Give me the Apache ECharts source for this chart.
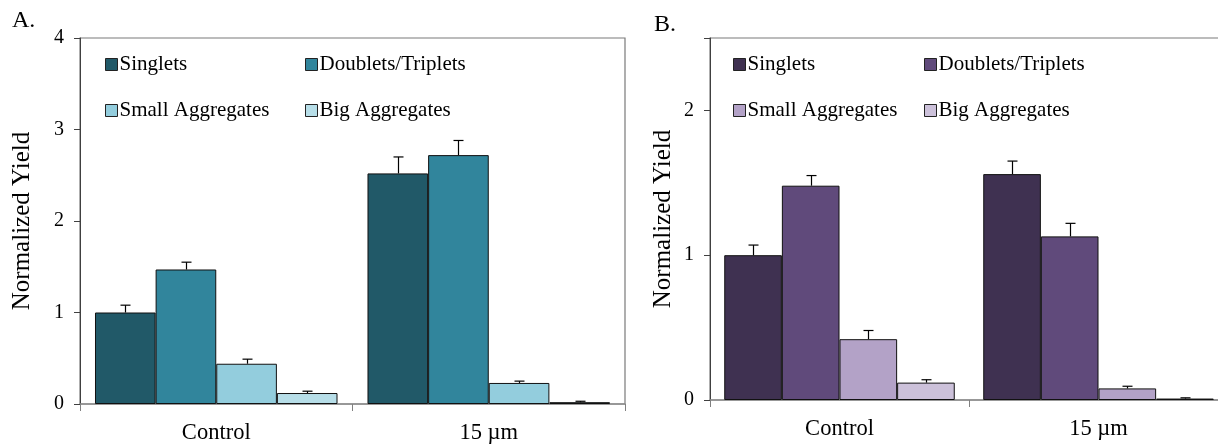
<!DOCTYPE html>
<html>
<head>
<meta charset="utf-8">
<script src="https://cdn.jsdelivr.net/npm/echarts@6/dist/echarts.min.js"></script>
<style>html,body{margin:0;padding:0;background:#fff;}#c{width:1218px;height:444px;}</style>
</head>
<body>
<div id="c"></div>
<script>
// ---- data ----
var categories = ['Control', '15 µm'];
var seriesNames = ['Singlets', 'Doublets/Triplets', 'Small Aggregates', 'Big Aggregates'];

// Panel A values and upper error
var aSinglets = [1.00, 2.52];
var aDoublets = [1.47, 2.72];
var aSmall = [0.44, 0.23];
var aBig = [0.12, 0.02];
var aSingletsErr = [0.08, 0.18];
var aDoubletsErr = [0.08, 0.16];
var aSmallErr = [0.05, 0.02];
var aBigErr = [0.02, 0.01];

// Panel B values and upper error
var bSinglets = [1.00, 1.56];
var bDoublets = [1.48, 1.13];
var bSmall = [0.42, 0.08];
var bBig = [0.12, 0.01];
var bSingletsErr = [0.07, 0.09];
var bDoubletsErr = [0.07, 0.09];
var bSmallErr = [0.06, 0.015];
var bBigErr = [0.02, 0.005];

var aTicks = [0, 1, 2, 3, 4];
var bTicks = [0, 1, 2];

var colorsA = ['#215968', '#31859C', '#93CDDD', '#B7DEE8'];
var colorsB = ['#3F3151', '#604A7B', '#B3A2C7', '#CCC1DA'];

var FONT = '"Liberation Serif", "Times New Roman", serif';
var CAT_GAP = 0.11;

var aVals = [aSinglets, aDoublets, aSmall, aBig];
var aErrs = [aSingletsErr, aDoubletsErr, aSmallErr, aBigErr];
var bVals = [bSinglets, bDoublets, bSmall, bBig];
var bErrs = [bSingletsErr, bDoubletsErr, bSmallErr, bBigErr];

function errData(vals, errs) {
  var d = [];
  for (var s = 0; s < vals.length; s++) {
    for (var c = 0; c < categories.length; c++) {
      d.push([c, s, vals[s][c], errs[s][c]]);
    }
  }
  return d;
}

function renderErr(params, api) {
  var c = api.value(0), s = api.value(1), v = api.value(2), e = api.value(3);
  var center = api.coord([c, 0]);
  var band = api.size([1, 0])[0];
  var used = band * (1 - CAT_GAP);
  var bw = used / 4;
  var x = Math.round(center[0] - used / 2 + (s + 0.5) * bw) + 0.5;
  var y0 = api.coord([c, v])[1];
  var y1 = api.coord([c, v + e])[1];
  var cap = 5;
  var st = { stroke: '#000', lineWidth: 1.2, fill: null };
  return {
    type: 'group',
    children: [
      { type: 'line', shape: { x1: x, y1: y0, x2: x, y2: y1 }, style: st },
      { type: 'line', shape: { x1: x - cap, y1: y1, x2: x + cap, y2: y1 }, style: st }
    ]
  };
}

function barSeries(vals, colors, idx) {
  return vals.map(function (v, s) {
    return {
      type: 'bar',
      name: seriesNames[s],
      xAxisIndex: idx,
      yAxisIndex: idx,
      data: v,
      barGap: '0%',
      barCategoryGap: (CAT_GAP * 100) + '%',
      itemStyle: { color: colors[s], borderColor: '#111', borderWidth: 1 },
      emphasis: { disabled: true },
      animation: false
    };
  });
}

function legendsFor(colors, x1, x2, y1, y2) {
  var pos = [[x1, y1], [x2, y1], [x1, y2], [x2, y2]];
  return seriesNames.map(function (n, i) {
    return {
      left: pos[i][0],
      top: pos[i][1] - 12,
      padding: 0,
      itemWidth: 12,
      itemHeight: 12,
      itemGap: 0,
      icon: 'rect',
      selectedMode: false,
      data: [{ name: n, itemStyle: { color: colors[i], borderColor: '#222', borderWidth: 1 } }],
      textStyle: { fontFamily: FONT, fontSize: 21, color: '#000', padding: [0, 0, 0, -3] }
    };
  });
}

function yAxis(idx, max, gap) {
  return {
    type: 'value',
    gridIndex: idx,
    min: 0,
    max: max,
    interval: 1,
    name: 'Normalized Yield',
    nameLocation: 'middle',
    nameGap: gap,
    nameTextStyle: { fontFamily: FONT, fontSize: 25, color: '#000' },
    axisLine: { show: true, lineStyle: { color: '#404040', width: 1 } },
    axisTick: { show: true, length: 6, lineStyle: { color: '#404040' } },
    splitLine: { show: false },
    axisLabel: {
      fontFamily: FONT, fontSize: 20, color: '#000', margin: 16, padding: [7, 0, 0, 0],
      formatter: function (v) { return (Math.abs(v - Math.round(v)) < 1e-9) ? String(v) : ''; }
    }
  };
}

function xAxis(idx) {
  return {
    type: 'category',
    gridIndex: idx,
    data: categories,
    axisLine: { show: true, lineStyle: { color: '#8c8c8c', width: 1.5 } },
    axisTick: { show: true, length: 7, interval: 0, lineStyle: { color: '#808080' } },
    axisLabel: { fontFamily: FONT, fontSize: 22.5, color: '#000', margin: 18 }
  };
}

var chart = echarts.init(document.getElementById('c'), null, { renderer: 'canvas' });
var option = {
  animation: false,
  backgroundColor: '#fff',
  grid: [
    { left: 80, right: 593, top: 38, bottom: 40, show: true, borderColor: '#7a7a7a', borderWidth: 1.2, backgroundColor: 'transparent', containLabel: false, outerBoundsMode: 'none' },
    { left: 710, right: -10, top: 38, bottom: 44, show: true, borderColor: '#7a7a7a', borderWidth: 1.2, backgroundColor: 'transparent', containLabel: false, outerBoundsMode: 'none' }
  ],
  legend: legendsFor(colorsA, 105, 305, 66, 112).concat(legendsFor(colorsB, 733, 924, 66, 112)),
  xAxis: [xAxis(0), xAxis(1)],
  yAxis: [yAxis(0, 4, 45), yAxis(1, 2.5, 34)],
  graphic: [
    { type: 'text', left: 12, top: 9, style: { text: 'A.', font: '24px ' + FONT, fill: '#000' } },
    { type: 'text', left: 654, top: 13, style: { text: 'B.', font: '24px ' + FONT, fill: '#000' } }
  ],
  series: barSeries(aVals, colorsA, 0).concat(barSeries(bVals, colorsB, 1)).concat([
    { type: 'custom', name: 'errA', xAxisIndex: 0, yAxisIndex: 0, renderItem: renderErr, data: errData(aVals, aErrs), z: 10, silent: true },
    { type: 'custom', name: 'errB', xAxisIndex: 1, yAxisIndex: 1, renderItem: renderErr, data: errData(bVals, bErrs), z: 10, silent: true }
  ])
};
chart.setOption(option);
</script>
</body>
</html>
